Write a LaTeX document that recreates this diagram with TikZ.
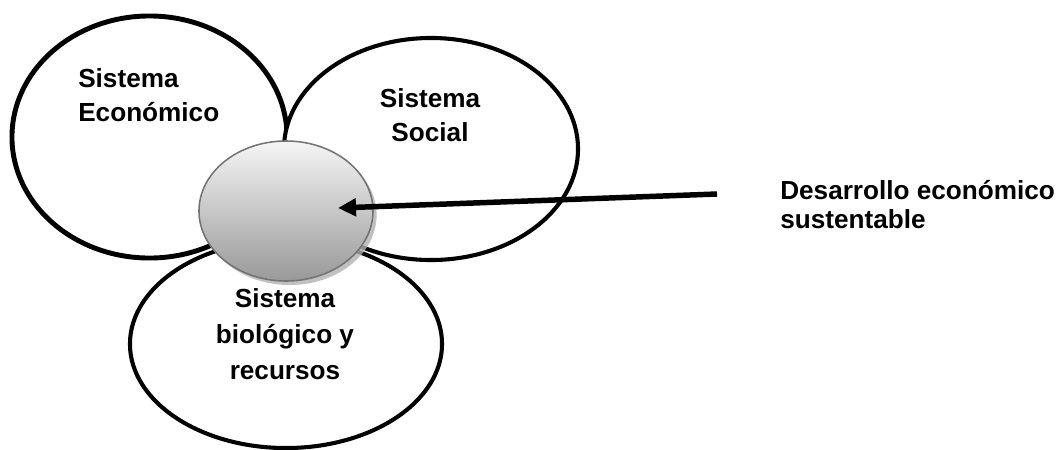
\documentclass[tikz,border=0pt]{standalone}
\usepackage{fontspec}
\setmainfont{Liberation Sans}
\usetikzlibrary{shapes.geometric,arrows.meta,shadows}
\begin{document}
\begin{tikzpicture}[x=0.025cm,y=-0.025cm,
        system/.style={ellipse, draw=black, fill=white, inner sep=0pt},
        systext/.style={font=\bfseries\fontsize{18.6}{24}\selectfont, inner sep=0pt},
        core/.style={ellipse, draw=black!55, line width=1.1pt, inner sep=0pt,
            top color=black!4, bottom color=black!40,
            drop shadow={shadow xshift=0.9mm, shadow yshift=-1mm, fill=black!30, opacity=0.8}},
        pointer/.style={-{Triangle[length=4.5mm,width=4.3mm]}, line width=3.9pt},
        ]
        \useasboundingbox (0,0) rectangle (1061,449);

        \node (econ) at (149.5,137) [system, line width=3.5pt, minimum width=6.875cm, minimum height=6.05cm] {};
        \node (social) at (431,149) [system, line width=2.9pt, minimum width=7.35cm, minimum height=5.55cm] {};
        \node (bio) at (286,344) [system, line width=2.9pt, minimum width=7.8cm, minimum height=5.2cm] {};
        \node (core) at (286,211) [core, minimum width=4.35cm, minimum height=3.5cm] {};

        \node (econtext) at (78,68.5) [systext, anchor=north west, align=left] {Sistema\\Económico};
        \node (socialtext) at (430,88.5) [systext, anchor=north, align=center] {Sistema\\Social};
        \node (biotext) at (285,288.5) [systext, anchor=north, align=center,
            font=\bfseries\fontsize{18.6}{25.5}\selectfont] {Sistema\\biológico y\\recursos};
        \node (goal) at (780,180) [systext, anchor=north west, align=left,
            font=\bfseries\fontsize{18.6}{20.5}\selectfont] {Desarrollo económico\\sustentable};

        \coordinate (tail) at (717,194);
        \coordinate (tip) at (338,208);
        \draw[pointer] (tail) -- (tip);

    \end{tikzpicture}
\end{document}
